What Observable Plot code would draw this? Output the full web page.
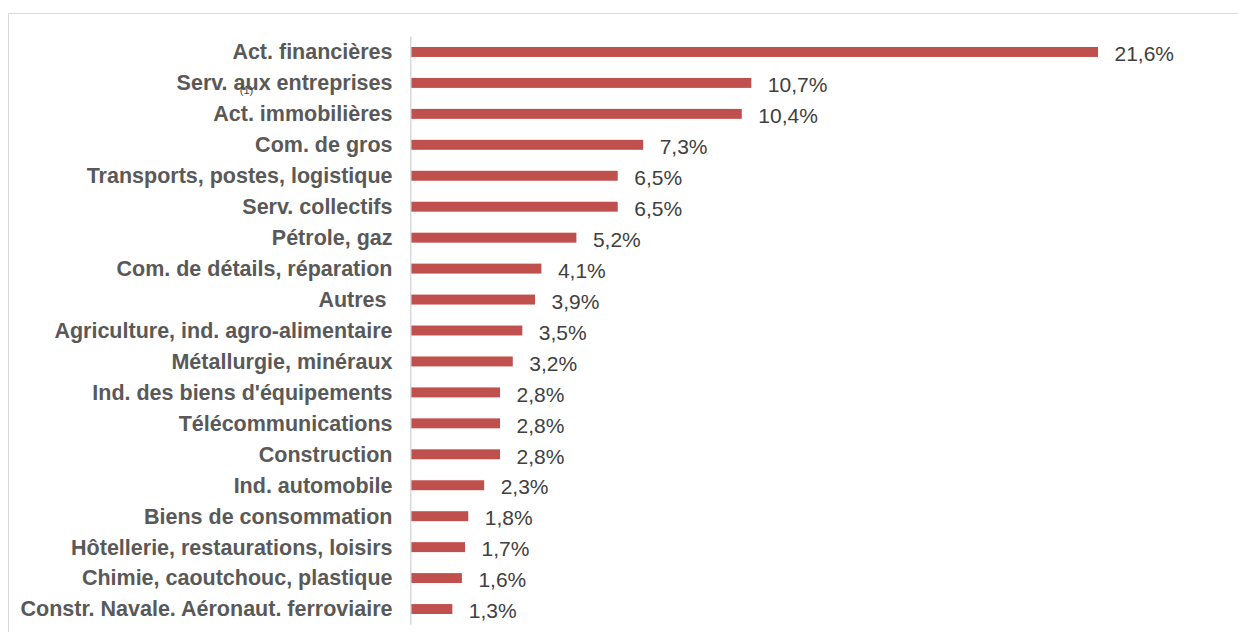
<!DOCTYPE html>
<html>
<head>
<meta charset="utf-8">
<script src="https://cdn.jsdelivr.net/npm/d3@7"></script>
<script src="https://cdn.jsdelivr.net/npm/@observablehq/plot@0.6"></script>
<style>
  html, body { margin: 0; padding: 0; background: #fff; }
  #wrap { position: relative; width: 1238px; height: 632px; overflow: hidden; }
  #border { position: absolute; left: 8px; top: 13px; right: -5px; bottom: -5px;
            border-top: 1.5px solid #d9d9d9; border-left: 1.5px solid #d9d9d9; }
  #chart { position: absolute; left: 0; top: 0; }
</style>
</head>
<body>
<div id="wrap"><div id="border"></div><div id="chart"></div></div>
<script>
const categories = [
  "Act. financières",
  "Serv. aux entreprises",
  "Act. immobilières",
  "Com. de gros",
  "Transports, postes, logistique",
  "Serv. collectifs",
  "Pétrole, gaz",
  "Com. de détails, réparation",
  "Autres\u00a0",
  "Agriculture, ind. agro-alimentaire",
  "Métallurgie, minéraux",
  "Ind. des biens d'équipements",
  "Télécommunications",
  "Construction",
  "Ind. automobile",
  "Biens de consommation",
  "Hôtellerie, restaurations, loisirs",
  "Chimie, caoutchouc, plastique",
  "Constr. Navale. Aéronaut. ferroviaire"
];
const values = [21.6, 10.7, 10.4, 7.3, 6.5, 6.5, 5.2, 4.1, 3.9, 3.5, 3.2, 2.8, 2.8, 2.8, 2.3, 1.8, 1.7, 1.6, 1.3];
const noteCategory = ["Serv. aux entreprises"];
const noteText = ["(1)"];

const data = categories.map((c, i) => ({cat: c, value: values[i]}));
const fmt = v => v.toFixed(1).replace(".", ",") + "%";

const chart = Plot.plot({
  width: 1238,
  height: 632,
  marginLeft: 411,
  marginRight: 140,
  marginTop: 36.5,
  marginBottom: 7.5,
  style: {fontFamily: "'Liberation Sans', Arial, sans-serif", background: "transparent"},
  x: {domain: [0, 21.6], axis: null},
  y: {domain: categories, padding: 0, round: false, axis: null},
  marks: [
    Plot.barX(data, {x: "value", y: "cat", fill: "#C0504D", insetTop: 10.5, insetBottom: 10.5}),
    Plot.ruleX([0], {stroke: "#d9d9d9", strokeWidth: 1.5, dx: -0.75}),
    Plot.text(data, {x: "value", y: "cat", text: d => fmt(d.value), textAnchor: "start",
      dx: 16, dy: 2, fontSize: 21, fill: "#404040"}),
    Plot.text(categories, {y: d => d, text: d => d, frameAnchor: "left", textAnchor: "end",
      dx: -19, fontSize: 21.5, fontWeight: "bold", fill: "#595959"}),
    Plot.text(noteCategory, {y: d => d, text: (d, i) => noteText[i], frameAnchor: "left",
      textAnchor: "middle", dx: -165, dy: 7, fontSize: 11, fill: "#404040"})
  ]
});
document.getElementById("chart").appendChild(chart);
</script>
</body>
</html>
